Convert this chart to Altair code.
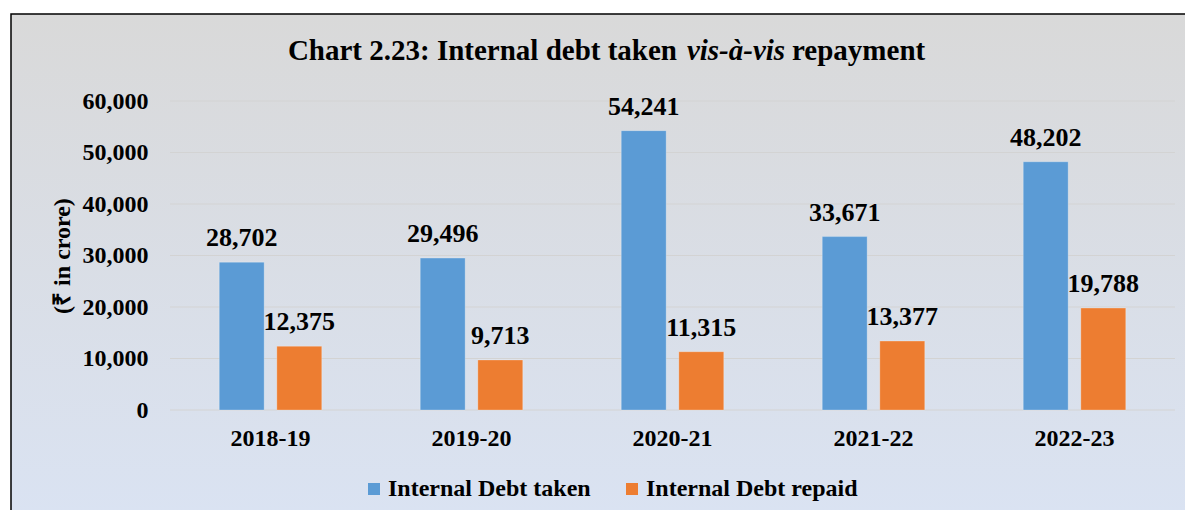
import altair as alt
import pandas as pd

years = ["2018-19", "2019-20", "2020-21", "2021-22", "2022-23"]
taken = [28702, 29496, 54241, 33671, 48202]
repaid = [12375, 9713, 11315, 13377, 19788]
series = ["Internal Debt taken", "Internal Debt repaid"]
colors = ["#5b9bd5", "#ed7d31"]
y_ticks = [0, 10000, 20000, 30000, 40000, 50000, 60000]

rows = []
for i, yr in enumerate(years):
    rows.append({"year": yr, "series": series[0], "value": taken[i]})
    rows.append({"year": yr, "series": series[1], "value": repaid[i]})
df = pd.DataFrame(rows)

FONT = "Liberation Serif"
W, H = 1005, 309

y_scale = alt.Scale(domain=[0, 60000], nice=False)
y_axis = alt.Axis(values=y_ticks, labelExpr="format(datum.value, ',d')", title="(₹ in crore)",
                  labelFont=FONT, labelFontSize=24, labelFontWeight="bold",
                  labelColor="black", labelPadding=22,
                  titleFont=FONT, titleFontSize=24, titleFontWeight="bold",
                  titleColor="black", titlePadding=8,
                  ticks=False, domain=False, grid=False, zindex=1)

x_enc = alt.X("year:N", sort=years,
              scale=alt.Scale(paddingInner=0.49, paddingOuter=0.245),
              axis=alt.Axis(title=None, labelAngle=0, labelFont=FONT, labelFontSize=24,
                            labelFontWeight="bold", labelColor="black", labelPadding=16,
                            ticks=False, domain=False, grid=False, zindex=1))
xoff = alt.XOffset("series:N", sort=series, scale=alt.Scale(paddingInner=0.22))

bg = alt.Chart(pd.DataFrame({"a": [0]})).mark_rect(
    fill=alt.LinearGradient(gradient="linear",
                            stops=[alt.GradientStop(color="#d9d9d9", offset=0),
                                   alt.GradientStop(color="#dae3f3", offset=1)],
                            x1=0, x2=0, y1=0, y2=1),
    stroke="black", strokeWidth=1.5, clip=False
).encode(x=alt.value(-159), x2=alt.value(1030), y=alt.value(-87), y2=alt.value(429))

grid = alt.Chart(pd.DataFrame({"value": y_ticks})).mark_rule(color="#d3d3d3", strokeWidth=1.2).encode(
    y=alt.Y("value:Q", scale=y_scale, axis=y_axis),
    x=alt.value(0), x2=alt.value(W))

bars = alt.Chart(df).mark_bar(stroke="#ffffff", strokeOpacity=0.25, strokeWidth=1).encode(
    x=x_enc, y=alt.Y("value:Q", scale=y_scale, axis=y_axis), xOffset=xoff,
    color=alt.Color("series:N", sort=series,
                    scale=alt.Scale(domain=series, range=colors),
                    legend=alt.Legend(title=None, orient="none", legendX=192, legendY=376,
                                      direction="horizontal", symbolType="square",
                                      symbolSize=144, symbolStrokeWidth=0,
                                      labelFont=FONT, labelFontSize=24, labelFontWeight="bold",
                                      labelColor="black", labelOffset=2, columnPadding=29,
                                      labelLimit=400)))

labels = alt.Chart(df).mark_text(font=FONT, fontSize=26, fontWeight="bold", color="black",
                                 baseline="alphabetic", dy=-16).encode(
    x=alt.X("year:N", sort=years), y=alt.Y("value:Q", scale=y_scale, axis=y_axis), xOffset=xoff,
    text=alt.Text("value:Q", format=","))

title_df = pd.DataFrame({"a": [0]})
t1 = alt.Chart(title_df).mark_text(text="Chart 2.23: Internal debt taken", font=FONT, fontSize=29,
                                   fontWeight="bold", color="black", align="right",
                                   baseline="alphabetic").encode(x=alt.value(507), y=alt.value(-41))
t2 = alt.Chart(title_df).mark_text(text="vis-à-vis", font=FONT, fontSize=29, fontWeight="bold",
                                   fontStyle="italic", color="black", align="center",
                                   baseline="alphabetic").encode(x=alt.value(566), y=alt.value(-41))
t3 = alt.Chart(title_df).mark_text(text="repayment", font=FONT, fontSize=29, fontWeight="bold",
                                   color="black", align="left",
                                   baseline="alphabetic").encode(x=alt.value(622), y=alt.value(-41))

chart = alt.layer(bg, grid, bars, labels, t1, t2, t3).resolve_scale(y="shared").properties(
    width=W, height=H,
    autosize=alt.AutoSizeParams(type="none"),
    padding={"left": 162, "top": 93, "right": 10, "bottom": 100},
    background="white"
).configure_view(stroke=None)

chart.save("out.html", embed_options={"renderer": "svg", "actions": False})
